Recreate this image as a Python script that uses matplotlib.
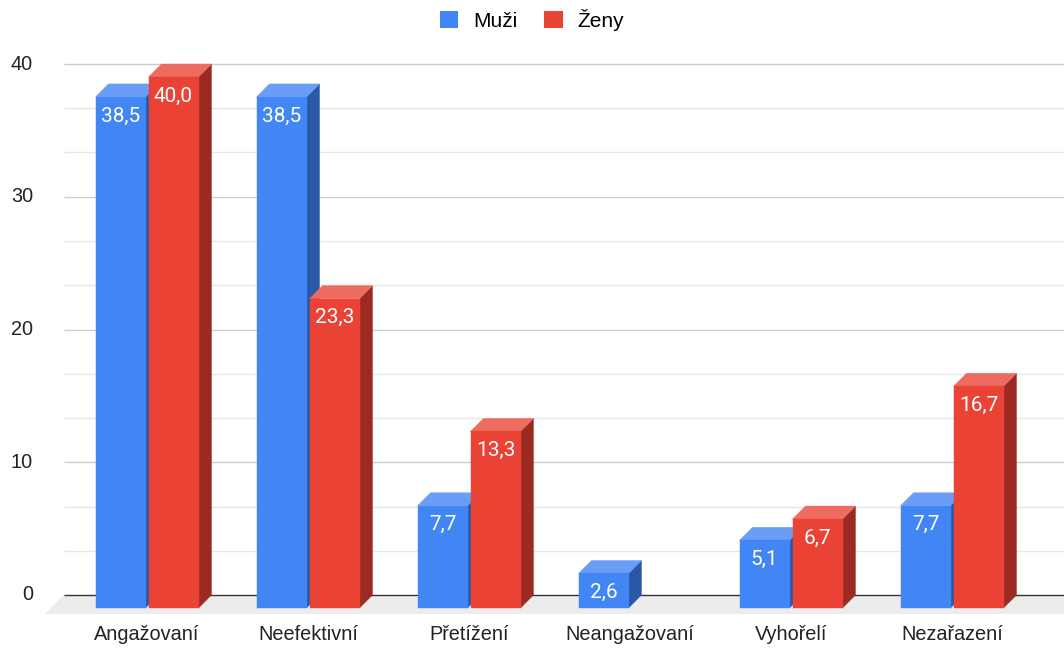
import matplotlib.pyplot as plt
from matplotlib.patches import Polygon, Rectangle, Patch

# data
kategorie = ['Angažovaní', 'Neefektivní', 'Přetížení', 'Neangažovaní', 'Vyhořelí', 'Nezařazení']
muzi = [38.5, 38.5, 7.7, 2.6, 5.1, 7.7]
zeny = [40.0, 23.3, 13.3, 0, 6.7, 16.7]
y_ticks = [0, 10, 20, 30, 40]
serie = ['Muži', 'Ženy']

# colours: front, top, side
modra = ('#4285f4', '#6a9ef6', '#2b57a7')
cervena = ('#ea4335', '#ee6b5f', '#9b2a22')

# one category = 161 px, one y unit = 13.275 px
px_x = 1 / 161
px_y = 1 / 13.275

fig = plt.figure(figsize=(10.64, 6.48), dpi=100)
ax = fig.add_axes([0, 0, 1, 1])
ax.set_xlim(-147 * px_x, (1064 - 147) * px_x)
ax.set_ylim(-(648 - 595) * px_y, 595 * px_y)
ax.axis('off')

w = 50 * px_x
gap = 3 * px_x
dx = 13 * px_x
dy = 13 * px_y
x_grid = (64 - 147) * px_x
x_end = (1100 - 147) * px_x

# floor
floor_d = 19
ax.add_patch(Polygon([(x_grid, 0), (x_end, 0), (x_end - floor_d * px_x, -floor_d * px_y),
                      ((45 - 147) * px_x, -floor_d * px_y)], color='#ececec', lw=0, zorder=1))

# gridlines (two minor between majors)
for k in range(13):
    y = k * 10 / 3
    if k == 0:
        c = '#333333'
    elif k % 3 == 0:
        c = '#cccccc'
    else:
        c = '#e6e6e6'
    ax.plot([x_grid, x_end], [y, y], color=c, lw=1, zorder=2, solid_capstyle='butt')

for t in y_ticks:
    ax.text((33 - 147) * px_x, t, str(t), ha='right', va='center', fontsize=14.3,
            family='Liberation Sans', color='#222222')


def bar3d(x0, v, barvy):
    front, top, side = barvy
    x1 = x0 + w
    ax.add_patch(Polygon([(x1, -dy), (x1 + dx, 0), (x1 + dx, v), (x1, v - dy)],
                         facecolor=side, edgecolor=side, lw=0.3, zorder=3))
    ax.add_patch(Polygon([(x0, v - dy), (x1, v - dy), (x1 + dx, v), (x0 + dx, v)],
                         facecolor=top, edgecolor=top, lw=0.3, zorder=3))
    ax.add_patch(Rectangle((x0, -dy), w, v, facecolor=front, edgecolor=front, lw=0.3, zorder=3))
    ax.text(x0 + w / 2, v - dy - 19 * px_y, f'{v:.1f}'.replace('.', ','), color='white',
            ha='center', va='center', fontsize=15, family='Roboto', zorder=4)


for i, kat in enumerate(kategorie):
    if muzi[i] > 0:
        bar3d(i - gap / 2 - w, muzi[i], modra)
    if zeny[i] > 0:
        bar3d(i + gap / 2, zeny[i], cervena)
    ax.text(i, (595 - 634) * px_y, kat, ha='center', va='center', fontsize=14.3,
            family='Liberation Sans', color='#222222')

handles = [Patch(facecolor=modra[0]), Patch(facecolor=cervena[0])]
fig.legend(handles, serie, loc='center', bbox_to_anchor=(0.5, 1 - 20 / 648), ncol=2,
           frameon=False, handlelength=0.9, handleheight=0.9, handletextpad=0.7,
           columnspacing=1.3, prop={'family': 'Liberation Sans', 'size': 15})

plt.savefig('out.png', dpi=100)
